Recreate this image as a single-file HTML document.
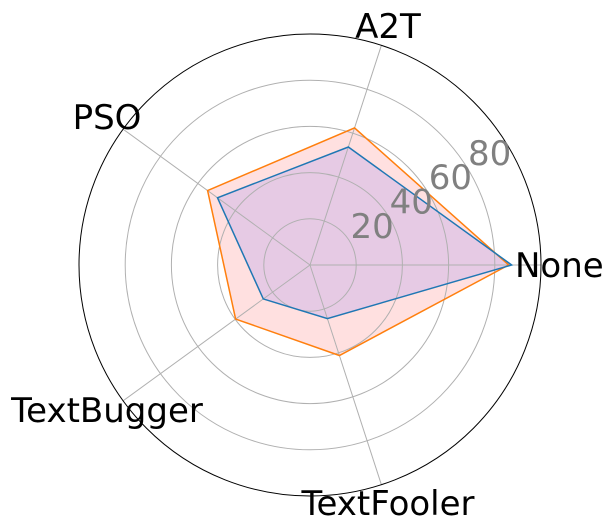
<!DOCTYPE html>
<html><head><meta charset="utf-8"><style>
html,body{margin:0;padding:0;background:#fff;width:616px;height:530px;overflow:hidden}
svg{display:block;font-family:"DejaVu Sans","Liberation Sans",sans-serif}
</style></head><body>
<svg id="chart" width="616" height="530"></svg>
<script>
const categories = ["None","A2T","PSO","TextBugger","TextFooler"];
const seriesBlue = [87.3, 53.7, 49.5, 25, 24.4];
const seriesOrange = [86, 62.4, 54.8, 39.8, 41.2];
const rTicks = [20, 40, 60, 80];
const rTickLabels = ["20","40","60","80"];
const rMax = 100;

const NS = "http://www.w3.org/2000/svg";
const svg = document.getElementById("chart");
const cx = 310, cy = 265, R = 231;
function rs(v){ return v / rMax * R; }
function ang(i){ return i * 2 * Math.PI / categories.length; }
function pt(i, v){ const a = ang(i), r = rs(v); return [cx + r*Math.cos(a), cy - r*Math.sin(a)]; }
function mk(tag, attrs){ const e = document.createElementNS(NS, tag); for (const k in attrs) e.setAttribute(k, attrs[k]); svg.appendChild(e); return e; }

function poly(vals, fill, name){
  const pts = vals.map((v, i) => pt(i, v).join(",")).join(" ");
  const f = mk("polygon", {points: pts, fill: fill, stroke: "none"});
  
  
  return pts;
}
const po = poly(seriesOrange, "#ffe0e0", "orange-series");
const pb = poly(seriesBlue, "#e6cae4", "blue-series");

rTicks.forEach(t => {
  const c = mk("circle", {cx, cy, r: rs(t), fill: "none", stroke: "#b0b0b0", "stroke-width": 1});
  
  
});
categories.forEach((c, i) => {
  const [x, y] = pt(i, rMax);
  const l = mk("line", {x1: cx, y1: cy, x2: x, y2: y, stroke: "#b0b0b0", "stroke-width": 1});
  
  
});
const oc = mk("circle", {cx, cy, r: R, fill: "none", stroke: "#000", "stroke-width": 1});



const lo = mk("polygon", {points: po, fill: "none", stroke: "#ff7f0e", "stroke-width": 1.5});


const lb = mk("polygon", {points: pb, fill: "none", stroke: "#1f77b4", "stroke-width": 1.5});



rTicks.forEach((t, i) => {
  const a = 32 * Math.PI / 180, r = rs(t) + 27;
  const tx = mk("text", {x: cx + r*Math.cos(a), y: cy - r*Math.sin(a) + 12, "text-anchor": "middle", "font-size": 34, fill: "#808080"});
  tx.textContent = rTickLabels[i];
  
  
});

const labelPos = [[515,277,"start"],[388,38,"middle"],[107,129,"middle"],[107,422,"middle"],[388,515,"middle"]];
categories.forEach((c, i) => {
  const p = labelPos[i];
  const tx = mk("text", {x: p[0], y: p[1], "text-anchor": p[2], "font-size": 34, fill: "#000"});
  tx.textContent = c;
  
  
});
</script>
</body></html>
